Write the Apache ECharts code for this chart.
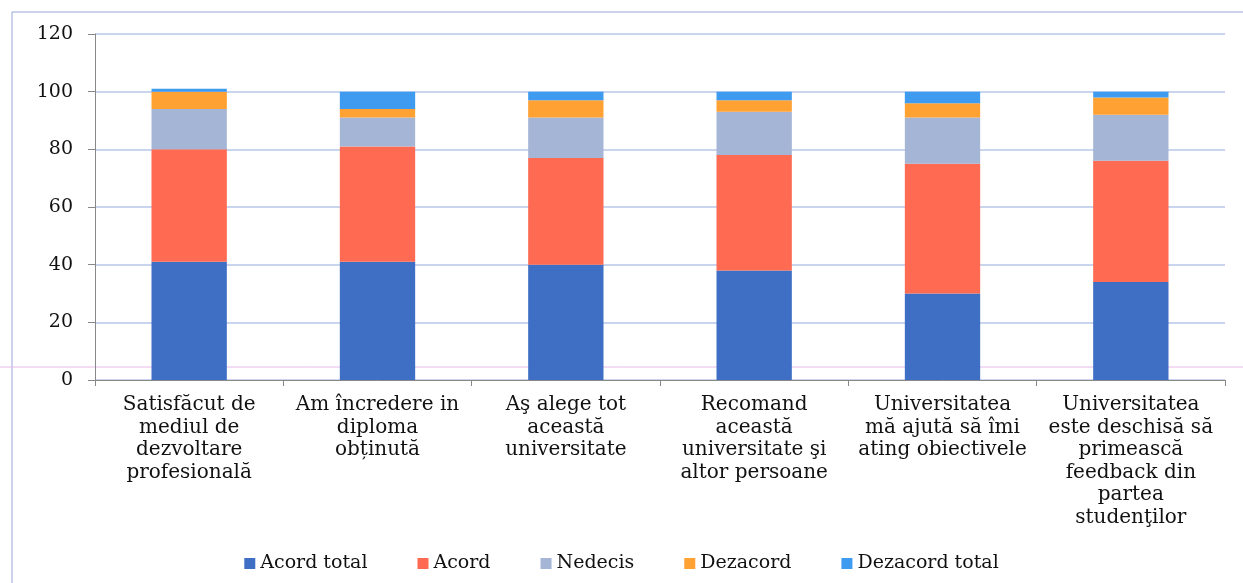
<!DOCTYPE html>
<html><head><meta charset="utf-8">
<script src="https://cdn.jsdelivr.net/npm/echarts@6/dist/echarts.min.js"></script>
<style>html,body{margin:0;padding:0;background:#fff}#c{width:1243px;height:583px}</style>
</head><body><div id="c"></div>
<script>
const categories = [
  "Satisfăcut de\nmediul de\ndezvoltare\nprofesională",
  "Am încredere in\ndiploma\nobținută",
  "Aş alege tot\naceastă\nuniversitate",
  "Recomand\naceastă\nuniversitate şi\naltor persoane",
  "Universitatea\nmă ajută să îmi\nating obiectivele",
  "Universitatea\neste deschisă să\nprimească\nfeedback din\npartea\nstudenţilor"
];
const seriesNames = ["Acord total", "Acord", "Nedecis", "Dezacord", "Dezacord total"];
const acordTotal    = [41, 41, 40, 38, 30, 34];
const acord         = [39, 40, 37, 40, 45, 42];
const nedecis       = [14, 10, 14, 15, 16, 16];
const dezacord      = [6, 3, 6, 4, 5, 6];
const dezacordTotal = [1, 6, 3, 3, 4, 2];
const yTicks = [0, 20, 40, 60, 80, 100, 120];

const colors = ["#3f6fc4", "#ff6a52", "#a4b5d6", "#ffa133", "#3e9bf0"];
const values = [acordTotal, acord, nedecis, dezacord, dezacordTotal];
const font = "'DejaVu Serif','Liberation Serif',serif";

const chart = echarts.init(document.getElementById('c'));
chart.setOption({
  animation: false,
  textStyle: { fontFamily: font },
  color: colors,
  grid: { left: 95, right: 18, top: 34, bottom: 203, containLabel: false },
  legend: {
    bottom: 5, left: 'center', itemWidth: 11, itemHeight: 11, itemGap: 50,
    icon: 'rect',
    textStyle: { fontFamily: font, fontSize: 19, color: '#111' },
    data: seriesNames
  },
  xAxis: {
    type: 'category', data: categories,
    axisLine: { lineStyle: { color: '#888', width: 1 } },
    axisTick: { show: true, length: 6, lineStyle: { color: '#888' } },
    axisLabel: { fontFamily: font, fontSize: 20, color: '#111', lineHeight: 22.5, margin: 14, interval: 0 }
  },
  yAxis: {
    type: 'value', min: 0, max: 120, interval: 20,
    axisLine: { show: true, lineStyle: { color: '#888', width: 1 } },
    axisTick: { show: true, length: 7, lineStyle: { color: '#888' } },
    axisLabel: { fontFamily: font, fontSize: 19, color: '#111', margin: 22,
      formatter: v => yTicks.includes(v) ? String(v) : '' },
    splitLine: { lineStyle: { color: '#b7c6ea', width: 1.5 } }
  },
  series: seriesNames.map((n, i) => ({
    name: n, type: 'bar', stack: 'total', barWidth: '40%',
    data: values[i], itemStyle: { color: colors[i] }
  })),
  graphic: [
    { type: 'rect', shape: { x: 12, y: 12, width: 1260, height: 600 }, silent: true,
      style: { fill: 'none', stroke: '#9aa6d8', lineWidth: 1 } },
    { type: 'line', shape: { x1: 0, y1: 367, x2: 1243, y2: 367 }, silent: true,
      style: { stroke: '#e8b8e8', lineWidth: 1 } }
  ]
});
</script></body></html>
